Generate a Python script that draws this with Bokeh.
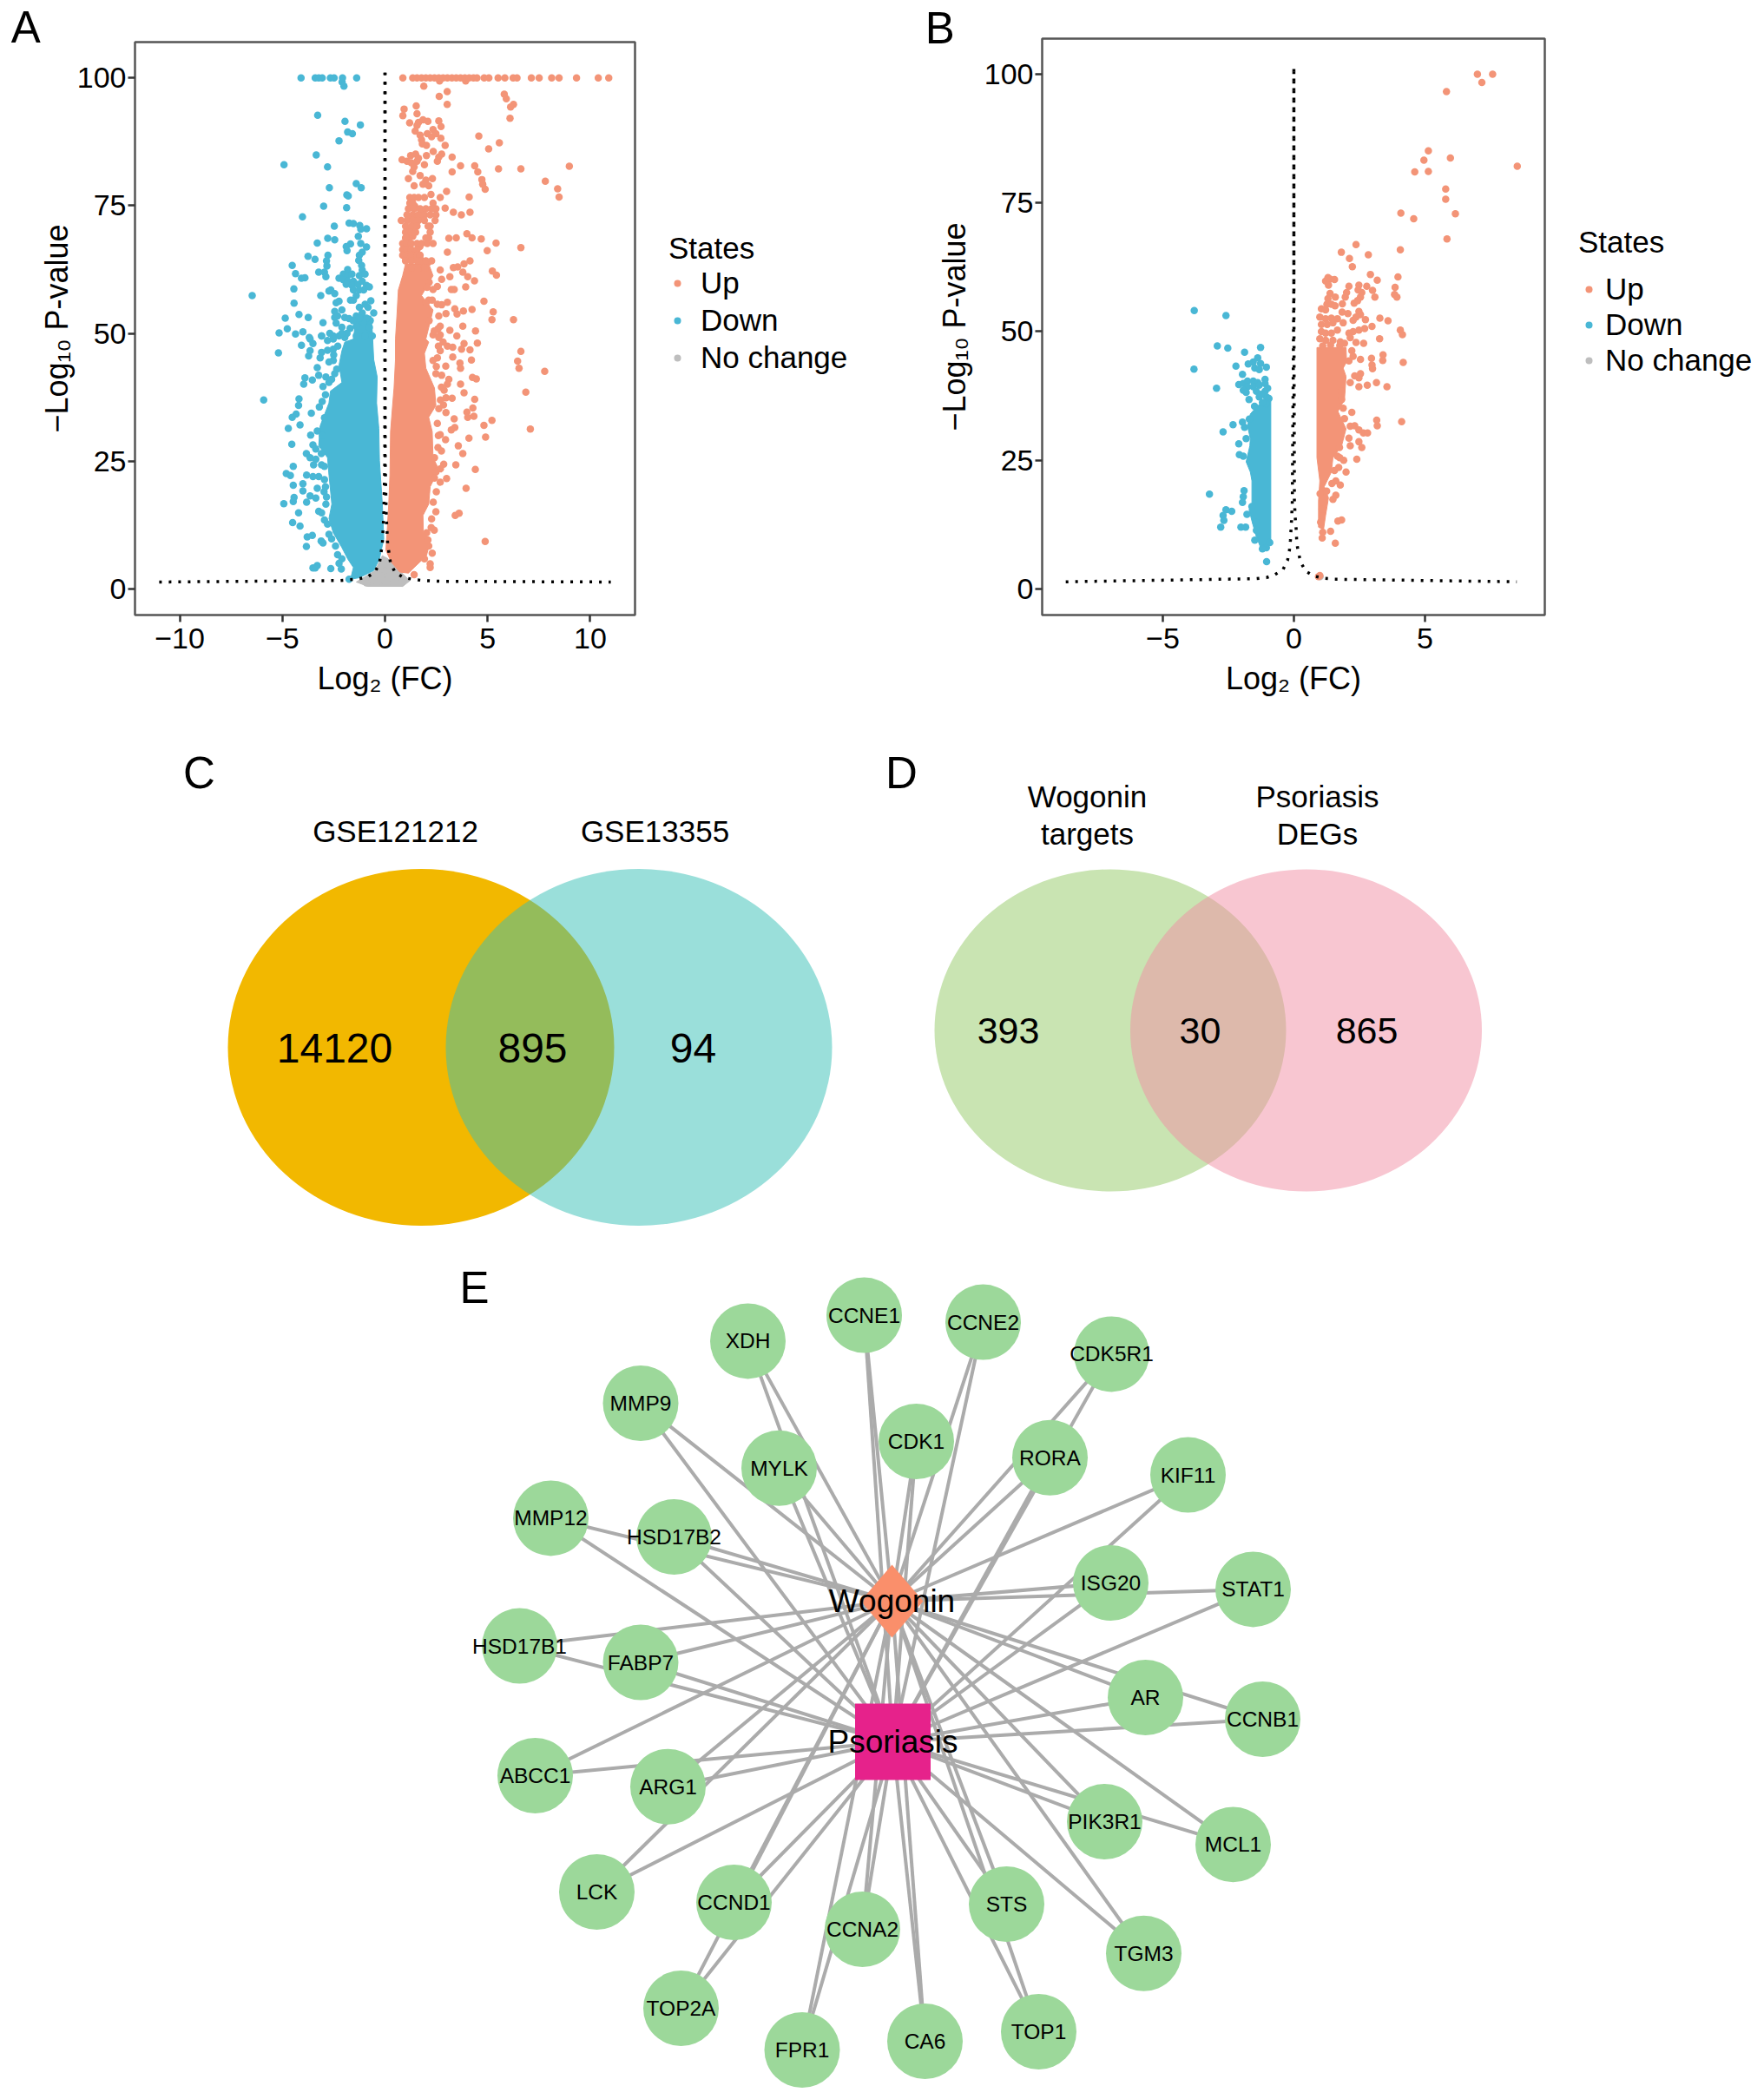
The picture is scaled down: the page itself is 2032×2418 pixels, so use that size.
from bokeh.plotting import figure
from bokeh.layouts import row, column
from bokeh.models import Range1d, FixedTicker, Legend, LegendItem, Label
from bokeh.core.properties import value
from bokeh.embed import file_html
from bokeh.resources import INLINE

FONT = "Liberation Sans"
UP, DOWN, NONE = "#F39477", "#49B7D5", "#BEBEBE"

# ---------- Panel A: values ----------
a_up_top_x = [0.87,1.35,1.56,1.78,1.99,2.2,2.41,2.62,2.83,3.04,3.26,3.47,3.68,3.89,4.1,4.31,4.48,4.83,5.06,5.51,5.84,6.24,6.43,7.13,7.51,8.12,8.48,9.33,10.39,10.9]
a_up_rows = [
 (76.6,[1.21,1.42,1.63,1.92]),(75.5,[1.21,1.35,2.34]),(74.4,[1.14,1.42,1.71,1.99,2.27,2.48]),
 (73.2,[1.07,1.35,1.63,1.92,2.2,2.48]),(72.1,[0.79,1.07,1.35,1.63,1.92,2.44]),(71.0,[1.0,1.28,1.56,2.2,2.1]),
 (69.8,[1.0,1.28,1.49,2.2]),(68.7,[1.0,2.13,1.99]),(67.6,[0.86,1.07,1.28,1.56,1.78,2.06,2.34]),
 (66.4,[0.86,1.07,1.28,1.56]),(65.3,[0.86,1.07,1.28,1.56,1.71]),(64.2,[1.0,1.28,1.56,1.78,1.99,2.27]),
]
a_up_points = [
 (2.66,99.4),(3.93,99.4),(1.89,98.4),(3.03,97.3),(2.64,96.4),(5.81,96.8),(5.91,95.9),(6.26,94.8),(6.12,94.3),(3.03,94.8),
 (6.09,92.1),(0.93,93.9),(1.52,94.5),(1.56,93.0),(0.87,92.6),(1.2,91.2),(1.63,91.3),(1.85,91.8),(2.09,91.5),(2.62,91.6),
 (2.73,90.5),(1.56,90.7),(1.47,89.6),(1.71,88.8),(2.06,89.1),(2.34,89.9),(2.27,88.5),(2.48,89.1),(2.72,88.2),(1.78,87.9),
 (1.82,87.1),(2.02,86.8),(2.93,86.8),(4.57,88.6),(5.57,87.3),(5.05,86.1),(0.83,84),(1.07,83.7),(1.25,84.8),(1.49,85.1),
 (1.28,83.4),(1.56,83.7),(1.42,82.6),(1.35,81.7),(1.63,84.3),(1.92,83),(2.02,84.8),(2.35,85.6),(2.76,85.1),(2.55,83.7),
 (2.62,84.5),(3.27,84.5),(3.68,82.8),(4.37,82.8),(4.52,81.6),(3.27,81.6),(5.53,82.2),(6.62,82.2),(8.98,82.7),(7.81,79.8),
 (8.41,78.3),(8.48,76.7),(4.72,80.1),(4.76,79.2),(4.88,78.2),(4.1,76.7),(3.0,77.8),(2.69,76.6),(2.24,77.2),(1.71,80.9),
 (1.14,80.3),(1.42,78.9),(1.99,80),(2.31,80.3),(2.13,78.9),(1.85,79.2),(2.93,74.5),(3.33,73.7),(3.72,73.2),(4.14,73.7),
 (3.99,69.5),(4.24,68.7),(4.69,68.5),(5.41,67.7),(6.62,66.8),(4.98,66.2),(3.11,68.6),(3.47,68.7),(3.04,65.9),(4.14,64.2),
 (3.85,63.6),(3.54,63),(3.33,62.9),(3.79,62),(2.69,62.4),(5.23,62.2),(5.43,61.4),(3.16,61.1),(2.76,60.6),(4.03,61.1),
 (4.36,60.3),(2.55,59.2),(3.23,58.6),(3.37,58.6),(3.93,59.1),(2.34,58.6),(2.13,56.5),(2.55,55.7),(2.76,55.6),(3.04,56.1),
 (3.4,54.8),(3.51,53.8),(3.82,54.4),(4.24,54.7),(4.82,56.3),(5.27,54.2),(5.21,52.7),(6.26,52.7),(2.97,53.9),(2.62,53.4),
 (3.79,51.4),(4.41,50.5),(3.16,50.6),(2.69,51.4),(2.58,50.9),(3.5,49.5),(2.69,49.7),(2.34,49.7),(4.5,48.1),(3.85,48),
 (3.73,46.9),(4.14,46.8),(3.3,47.3),(3.04,47.5),(3.3,45.4),(4.21,44.8),(3.65,44.2),(3.68,43.2),(2.96,43.6),(2.69,46.6),
 (2.55,45.2),(2.34,44.7),(2.83,48.3),(2.62,49.2),(6.62,46.5),(6.46,44.6),(6.53,43.2),(7.78,42.6),(4.26,41.4),(4.45,41.1),
 (3.68,40.1),(3.11,41),(3.04,40.1),(2.76,41.8),(2.48,42.1),(3.85,38.4),(2.88,38.9),(2.97,37.4),(3.27,37.3),(6.86,38.5),
 (4.37,37.1),(4.28,35.4),(3.99,34.6),(4.03,33.6),(4.33,33.8),(5.21,33),(4.82,32),(7.08,31.3),(3.37,33.3),(2.97,34.5),
 (2.62,35.3),(3.4,31.6),(3.23,31.1),(2.55,32.4),(2.69,30.2),(2.95,29.2),(4.09,29.5),(4.9,29.7),(2.58,27.7),(3.57,28),
 (3.79,26.5),(2.41,25.7),(2.86,24.4),(3.45,24.3),(4.4,23.4),(2.48,22.9),(3.0,21.6),(2.69,20.9),(2.41,21.7),(3.95,19.7),
 (2.48,15.1),(3.61,14.8),(3.42,14.4),(2.27,13.7),(4.88,9.3),(2.03,11),(2.13,8.4),(2.3,7),(2.2,4.9),(2.2,4.2),(1.42,2.8),
 (1.92,5.9),(2.09,9.6),
 (2.4,50.5),(2.6,47.5),(2.5,43.5),(2.75,39.5),(2.7,37),(2.85,36),(2.6,30),(2.75,27),(2.7,23.5),(2.5,19),(2.35,17),(2.25,12),(2.4,11.5),
 (1.3,62.8),(1.6,62.5),(1.95,62.8),(2.15,60),(2.05,59),(2.0,56),(2.3,56.5),(2.15,52.5),
 (1.45,74.9),(1.75,73.8),(1.2,72.7),(1.55,73),(1.85,72.7),(1.5,71.5),(1.2,70.4),(1.4,70.4),(1.15,69.2),(1.35,69),(1.15,68.1),(1.7,67),
 (0.95,66.9),(1.2,66),(1.4,65.9),(1.0,64.8),(1.2,64.8),(1.45,64.7),(1.7,64.7),(1.9,63.9),(2.1,63.9),
]
# outline of the region where the overplotted points merge into a solid mass
a_up_mass_x = [0.04,0.1,0.18,0.24,0.27,0.37,0.44,0.51,0.51,0.58,0.65,0.86,1.0,2.13,2.34,1.78,2.34,2.27,1.99,2.13,1.92,1.99,2.41,2.48,2.13,2.3,2.34,2.55,2.41,2.2,2.13,1.85,1.87,2.2,2.02,1.71,1.42,1.14,0.72,0.3]
a_up_mass_y = [7.6,11,16.6,22.3,30.8,35.9,39.3,44.9,48.9,53.4,58.5,61.3,63.6,63.6,61.3,57.4,54.6,53.4,48.9,48.3,46.1,43.2,39.3,35.9,33.6,30.8,25.7,24,21.7,20,16.6,14.4,11,9.3,6.5,5.3,4.2,3.1,3.3,5.3]

a_down_top_x = [-4.09,-3.4,-3.23,-3.06,-2.66,-2.48,-2.07,-1.38]
a_down_points = [
 (-2.09,99.2),(-2.0,98.4),(-3.28,92.7),(-1.95,91.5),(-1.2,90.8),(-1.82,89.4),(-1.59,89.1),(-2.24,87.7),(-3.35,84.9),(-4.92,83),
 (-2.8,82.6),(-2.71,78.5),(-1.4,79.3),(-1.16,78.5),(-1.86,77.1),(-1.79,76.9),(-2.99,74.9),(-1.87,74.6),(-4.02,72.8),(-1.75,71.6),
 (-1.54,71.5),(-1.23,71.1),(-0.9,70.5),(-1.18,70.4),(-2.47,71),(-1.3,69),(-2.79,68.6),(-2.45,68.3),(-3.3,67.7),(-1.68,67.5),
 (-1.89,67),(-1.85,66.2),(-1.18,67.6),(-0.9,66.9),(-1.11,65.9),(-1.25,65.3),(-2.78,65.3),(-3.75,65.1),(-3.41,64.5),(-2.85,64.2),
 (-4.52,63.3),(-1.28,64.3),(-2.83,63.2),(-1.14,63.3),(-1.11,62.4),(-3.23,62),(-2.95,62),(-4.36,61.7),(-2.88,61.1),(-4.07,60.8),
 (-3.9,60.9),(-4.44,58.7),(-2.73,58.3),(-2.64,58.5),(-2.45,57.8),(-3.13,57.4),(-6.47,57.4),(-4.43,55.9),(-4.19,53.7),(-4.86,53),
 (-3.74,53.1),(-3.02,52.1),(-4.76,50.9),(-5.16,50.1),(-4.36,49.9),(-4.0,50.3),(-3.69,49.2),
 (-1.82,62.5),(-2.03,61.6),(-1.82,61.3),(-1.61,61.6),(-2.24,60.8),(-2.03,60.5),(-1.82,60.2),(-1.54,60.2),(-1.25,61.3),(-0.97,61.6),
 (-1.89,59.6),(-1.61,59.4),(-1.32,59.6),(-1.11,60.2),(-0.9,59.4),(-0.76,59.1),(-1.54,58.5),(-1.25,58.5),(-1.04,58.5),(-1.4,57.4),
 (-1.54,56.5),(-1.68,56.5),(-2.24,56.3),(-2.38,56),(-0.69,56.4),(-0.97,55.7),(-1.25,55.1),(-1.11,54),(-0.83,55.1),(-2.1,54.6),
 (-2.45,54.3),(-2.45,53.1),(-2.31,53.4),(-1.96,53.1),(-1.75,52.9),(-1.4,53.4),(-2.38,52),(-2.1,51.2),(-1.4,51.4),(-0.76,51.2),
 (-0.62,49.5),(-3.09,49.5),(-2.69,50),(-2.24,49.5),(-1.96,49.2),(-1.4,49.5),(-0.97,49.5),(-2.52,49.5),
 (-4.07,47.7),(-5.19,46.2),(-3.65,48.9),(-3.51,48),(-3.65,46.6),(-3.72,45.6),(-3.09,49.5),(-2.8,48.6),(-2.52,48.9),(-3.09,46.3),
 (-2.8,46.7),(-2.52,46.9),(-3.16,45.2),(-2.52,44.7),(-2.73,44.4),(-3.3,43.3),(-3.23,41.8),(-2.88,41.5),(-2.73,40.4),(-3.02,39.6),
 (-2.45,42.1),(-3.9,41.3),(-3.96,40.1),(-3.54,40.9),(-5.91,37),(-4.19,37.2),(-4.21,35.9),(-3.06,36.7),(-3.2,35.6),(-4.33,34.2),
 (-4.52,33.6),(-3.59,34.4),(-4.14,32.1),(-4.71,31.4),(-3.3,30.9),(-3.62,30.1),(-4.54,28.3),(-3.51,28.2),(-3.37,27.4),(-3.83,26.5),
 (-3.65,25.7),(-3.37,25.4),(-3.48,24.3),(-4.47,24),(-3.09,24.3),(-4.81,22.6),(-4.61,22.2),(-3.82,22.3),(-3.51,22),(-3.23,22),
 (-2.95,21.4),(-4.0,20.6),(-4.47,20.3),(-3.3,19.7),(-2.97,19),(-4.0,19.2),(-3.65,18.2),(-3.37,17.8),(-4.43,17.9),(-4.47,17.1),
 (-4.93,16.7),(-3.82,17),(-2.88,16.6),(-3.23,15.2),(-4.21,14.9),(-3.09,14.9),(-4.5,13),(-4.14,12.3),(-2.8,12.7),(-2.73,10.7),
 (-3.79,10.2),(-3.54,10.5),(-3.11,9.4),(-3.02,9),(-3.83,8.3),(-2.41,8.4),(-2.31,6.7),(-2.1,5.9),(-2.24,5),(-2.13,3.9),(-2.64,4),
 (-3.51,4.1),(-3.3,4.6),(-3.4,4.1),(-1.75,1.9),
 (-0.55,54),(-0.72,52.5),(-0.9,53),(-1.05,52.2),(-1.25,53),(-1.55,52.5),(-1.7,51),(-1.85,50),(-2.1,50),(-2.3,47.5),(-2.5,45.8),(-2.35,43),
 (-2.6,41),(-2.9,38),(-2.95,33.5),(-3.05,30),(-3.1,26.5),(-2.95,24),(-2.9,20),(-2.85,18),(-2.95,13.5),(-2.6,9.8),
]
a_down_mass_x = [-0.62,-0.55,-0.38,-0.41,-0.3,-0.27,-0.13,-0.06,-0.27,-0.55,-1.25,-1.68,-1.54,-1.82,-2.1,-2.52,-2.73,-2.59,-2.73,-2.8,-3.23,-3.16,-2.73,-2.66,-2.1,-2.24,-2.1,-1.96,-1.54,-1.4,-0.69]
a_down_mass_y = [50.6,44.9,41.5,36.4,31.4,25.1,16.6,9.8,5.9,3.6,2.2,1.9,4.2,5.9,8.1,11,13.8,16.6,22.3,25.7,28,31.9,36.4,38.7,40.4,43.8,46.6,48.3,48.9,53.4,53.4]

a_none_x = [-0.9,-0.4,0.0,0.4,0.8,0.0,-0.2,0.2]
a_none_y = [1.2,1.2,1.5,1.2,1.2,3.5,2.5,2.5]
a_none_mass_x = [-1.4,-0.83,0.86,1.21,0.15,-0.13,-0.48]
a_none_mass_y = [1.36,0.5,0.5,1.6,5.9,6.5,3.6]

a_curve_left_x = [-11,-2.2,-1.4,-0.86,-0.48,-0.27,-0.13,-0.06,-0.01,0,0]
a_curve_left_y = [1.36,1.65,1.9,2.3,3.4,5,8.8,14.4,25,50,101]
a_curve_right_x = [0,0,0.01,0.06,0.13,0.27,0.5,0.93,1.35,1.85,2.8,11]
a_curve_right_y = [101,50,25,14.4,8.8,5,3.2,2.2,1.9,1.65,1.5,1.36]

# ---------- Panel B ----------
b_up_points = [
 (7.0,100),(7.58,100),(7.17,98.4),(5.82,96.6),(5.13,85.1),(4.96,83.3),(5.97,83.7),(8.52,82.1),(4.61,81),(5.13,81.1),(5.79,77.7),
 (5.79,75.7),(6.16,72.9),(4.08,73),(4.57,71.9),(5.84,68),(2.37,66.9),(4.06,65.9),(1.81,65.4),(2.84,64.9),(2.12,64.2),(2.23,62.6),
 (2.92,61.1),(3.18,60),(3.97,60.6),(3.86,58.6),(3.84,57.2),(3.93,56.7),(1.3,60.5),(1.21,59.8),(1.38,60.2),(1.55,60.1),(1.32,59),
 (2.1,58.8),(2.01,57.6),(1.96,56.7),(2.48,59),(2.45,58.1),(2.78,58.8),(3.0,58),(3.09,56.7),(2.59,57.6),(2.54,56.7),(2.43,56),
 (2.3,55.5),(1.85,55.4),(1.58,56.7),(1.38,57.4),(1.3,56.4),(1.26,55.3),(1.43,55.3),(1.57,55),(1.05,54.4),(1.21,54.2),(1.84,53.8),
 (2.06,53.5),(2.48,53.9),(2.54,53.3),(2.37,52.8),(2.73,52.3),(3.28,52.6),(3.59,52.1),(0.99,52.8),(1.21,52.5),(1.43,52.6),(1.66,52.5),
 (1.05,51.4),(1.27,51.4),(1.49,51.7),(1.88,51.7),(2.26,52.2),(2.98,51),(2.7,50.6),(2.48,50.3),(2.26,50),(2.1,49.7),(4.06,50.3),
 (4.14,49.4),(3.27,48.6),(1.05,50),(1.21,49.7),(1.43,49.7),(1.66,50.3),(2.15,48.8),(0.99,48.6),(1.21,48.3),(1.49,48.3),(1.77,48),
 (2.37,47.9),(2.66,47.7),(1.93,47.7),(2.21,46.3),(2.26,45.2),(2.1,44.3),(2.54,44.6),(2.96,44.8),(3.4,45.5),(3.39,44.4),(4.17,44),
 (2.98,43.5),(3.0,42.8),(2.32,41.4),(2.54,41.8),(2.48,41),(2.15,40.1),(2.48,39.3),(2.8,39.6),(3.15,40.1),(3.55,39.3),(1.82,38.4),
 (1.82,36.8),(1.88,35.1),(2.21,34.3),(1.93,33.1),(3.16,32.8),(3.18,31.7),(4.11,32.5),(2.15,31.6),(2.32,31.7),(2.48,30.9),(2.65,30.3),
 (2.81,30.3),(2.1,29.3),(2.48,28.6),(2.59,27.5),(2.15,27.8),(1.74,27.5),(1.66,25.8),(2.4,25.2),(1.9,25),(1.71,23.6),(1.99,22.7),
 (1.6,21),(1.77,20.2),(1.6,18.2),(1.49,17.4),(1.82,13.4),(1.68,13.2),(1.4,11.2),(1.08,9.9),(1.58,8.9),(0.99,2.6),(0.94,2.4),
 (1.1,47.2),(1.4,47.4),(1.75,47.3),(1.0,18.5),(1.08,15.5),(1.02,13),(1.1,11),(1.25,19),(1.45,20.5),(1.55,23),(1.75,25.5),
]
b_up_mass_x = [0.91,1.99,2.01,1.88,1.99,1.93,1.68,1.99,1.82,1.49,1.43,1.16,1.32,1.21,1.13,0.94,0.94,0.99,0.88,0.88]
b_up_mass_y = [46.9,46.9,44.1,42.9,41.3,36.8,34.5,31.1,27.8,25.5,22.7,19.9,17.7,14.3,11.5,12,17.1,21,25.5,46.9]

b_down_points = [
 (-3.8,54.1),(-2.59,53.1),(-2.92,47.2),(-2.52,46.8),(-1.88,46),(-1.27,46.9),(-3.81,42.7),(-2.21,43.3),(-1.74,43.7),(-2.95,39),
 (-1.96,41.7),(-1.55,44.1),(-1.38,44.9),(-1.27,43.8),(-1.49,42.9),(-1.32,42.6),(-1.05,43.1),(-2.1,39.7),(-1.93,39.9),(-1.77,40.4),
 (-1.55,40.4),(-1.38,40.1),(-1.1,40.7),(-1.77,39.3),(-1.55,39.3),(-1.32,39.6),(-1.1,39.9),(-1.93,38.6),(-1.43,38.4),(-1.1,38.4),
 (-1.05,37.3),(-1.82,38.2),(-1.71,36.8),(-1.32,37.3),(-2.32,31.9),(-1.96,32.4),(-1.88,31.4),(-2.7,30.5),(-1.82,29.2),(-2.1,28.2),
 (-2.08,26.1),(-1.93,25.8),(-3.22,18.4),(-1.9,19.1),(-1.93,17.9),(-1.96,16.8),(-2.59,15.4),(-2.37,15.1),(-2.7,14.3),(-2.67,13.3),
 (-2.79,12),(-2.02,12),(-1.84,12),(-1.79,14.5),(-1.49,9.5),(-1.43,11.4),(-1.04,5.3),
 (-0.95,37),(-1.05,36),(-1.2,36.2),(-1.5,35.5),(-1.7,33),(-0.92,9),(-1.05,8),(-1.2,7.8),(-1.45,13),(-1.6,16),(-1.25,37.8),(-1.0,39),
]
b_down_mass_x = [-0.88,-0.88,-1.21,-1.43,-1.6,-1.71,-1.6,-1.6,-1.66,-1.82,-1.68,-1.66,-1.77,-1.66,-1.38]
b_down_mass_y = [36.8,8.7,7.3,10.1,13.2,15.4,16.5,21,22.7,24.7,27.8,29.2,31.7,34,35.6]
b_none_x = [1.0]
b_none_y = [2.4]

b_curve_left_x = [-8.7,-1.45,-1.05,-0.72,-0.41,-0.24,-0.17,-0.13,-0.11,-0.09,-0.06,0,0]
b_curve_left_y = [1.4,2,2.2,2.8,3.8,5.6,7.5,9.5,11.5,13.2,17,60,101]
b_curve_right_x = [0,0,0.02,0.06,0.09,0.11,0.17,0.28,0.46,0.77,1.13,1.55,8.5]
b_curve_right_y = [101,60,17,13.2,11.5,9,7,5,3.4,2.5,2.1,1.9,1.4]

# ---------- Axis labels ----------
y_ticks = [0,25,50,75,100]
a_x_ticks = [-10,-5,0,5,10]
b_x_ticks = [-5,0,5]
legend_labels = ["Up","Down","No change"]
x_title = "Log₂ (FC)"
y_title = "−Log₁₀ P-value"

# ---------- Panels C, D ----------
venn_c_names = ["GSE121212","GSE13355"]
venn_c_counts = ["14120","895","94"]
venn_d_names = ["Wogonin","targets","Psoriasis","DEGs"]
venn_d_counts = ["393","30","865"]

# ---------- Panel E: network layout ----------
genes = ["CCNE1","CCNE2","XDH","CDK5R1","MMP9","MYLK","CDK1","RORA","KIF11","MMP12","HSD17B2","ISG20","STAT1","HSD17B1","FABP7","AR","CCNB1","ABCC1","ARG1","PIK3R1","MCL1","LCK","CCND1","STS","CCNA2","TGM3","TOP2A","FPR1","CA6","TOP1"]
gene_x = [995,1132,861,1280,737.5,897,1055,1209,1368,634,776,1279,1443,598,737.5,1319,1454,616,769,1272,1420,687,845,1159,993,1317,784,923.5,1065,1196]
gene_y = [1514.6,1522.6,1544.4,1559.4,1616,1690.7,1660,1678.7,1698.6,1748.4,1770,1823,1830.4,1895.6,1914.5,1955,1980,2045,2057.7,2098,2124.4,2179,2191,2193,2222,2249.7,2313,2361,2351,2340]
hub_names = ["Wogonin","Psoriasis"]
hub_x = [1027,1028]
hub_y = [1844,2006]


def expand(points):
    return [p[0] for p in points], [p[1] for p in points]


def volcano(x_range, y_range, x_ticks, frame_w, frame_h, left, right, top, bottom, y_standoff):
    p = figure(frame_width=frame_w, frame_height=frame_h, x_range=Range1d(*x_range), y_range=Range1d(*y_range),
               output_backend="svg", toolbar_location=None,
               min_border_left=left, min_border_right=right, min_border_top=top, min_border_bottom=bottom)
    p.grid.visible = False
    p.outline_line_color = "#555555"
    p.outline_line_width = 2.5
    for ax, ticks in ((p.xaxis, x_ticks), (p.yaxis, y_ticks)):
        ax.ticker = FixedTicker(ticks=ticks)
        ax.major_label_overrides = {t: (f"−{abs(t)}" if t < 0 else str(t)) for t in ticks}
        ax.minor_tick_line_color = None
        ax.axis_line_color = None
        ax.major_tick_line_color = "#333333"
        ax.major_tick_line_width = 2.5
        ax.major_tick_in = 0
        ax.major_tick_out = 8
        ax.major_label_text_font = FONT
        ax.major_label_text_font_size = "34px"
        ax.major_label_text_color = "black"
        ax.axis_label_text_font = FONT
        ax.axis_label_text_font_size = "36px"
        ax.axis_label_text_font_style = "normal"
        ax.axis_label_text_color = "black"
    p.xaxis.axis_label = x_title
    p.yaxis.axis_label = y_title
    p.xaxis.major_label_standoff = 7
    p.yaxis.major_label_standoff = 2
    p.xaxis.axis_label_standoff = 11
    p.yaxis.axis_label_standoff = y_standoff
    return p


def add_series(p, none_xy, none_mass, down_xy, down_mass, up_xy, up_mass, curve_l, curve_r):
    if none_mass:
        p.patch(none_mass[0], none_mass[1], fill_color=NONE, line_color=NONE)
    p.scatter(none_xy[0], none_xy[1], size=8.5, fill_color=NONE, line_color=None)
    p.patch(down_mass[0], down_mass[1], fill_color=DOWN, line_color=DOWN)
    p.scatter(down_xy[0], down_xy[1], size=8.5, fill_color=DOWN, line_color=None)
    if up_mass:
        p.patch(up_mass[0], up_mass[1], fill_color=UP, line_color=UP)
    p.scatter(up_xy[0], up_xy[1], size=8.5, fill_color=UP, line_color=None)
    for c in (curve_l, curve_r):
        p.line(c[0], c[1], line_color="black", line_width=3.5, line_dash="3 8")


def legend_figure(width, loc, spacing, gw, ls, ts):
    # a small side figure holds the "States" key, one swatch per series
    lg = figure(width=width, height=820, x_range=Range1d(1,2), y_range=Range1d(1,2),
                output_backend="svg", toolbar_location=None, min_border=0)
    lg.axis.visible = False
    lg.grid.visible = False
    lg.outline_line_color = None
    rs = [lg.scatter([0],[0], size=8.5, fill_color=c, line_color=None) for c in (UP, DOWN, NONE)]
    leg = Legend(items=[LegendItem(label=l, renderers=[r]) for l, r in zip(legend_labels, rs)],
                 location=loc, title="States", background_fill_alpha=0, border_line_color=None,
                 label_text_font=FONT, label_text_font_size="35px", label_text_color="black",
                 title_text_font=FONT, title_text_font_size="35px", title_text_font_style="normal", title_text_color="black",
                 padding=0, margin=0, spacing=spacing, glyph_width=gw, glyph_height=20,
                 label_standoff=ls, title_standoff=ts)
    lg.add_layout(leg, "center")
    return lg


# Panel A
fig_a = volcano((-12.18,12.18),(-5.1,107),a_x_ticks,576,660,155,9,48,112,0)
ax_up, ay_up = expand(a_up_points)
for y, xs in a_up_rows:
    ax_up += xs
    ay_up += [y]*len(xs)
ax_up += a_up_top_x
ay_up += [100]*len(a_up_top_x)
ax_dn, ay_dn = expand(a_down_points)
ax_dn += a_down_top_x
ay_dn += [100]*len(a_down_top_x)
add_series(fig_a,(a_none_x,a_none_y),(a_none_mass_x,a_none_mass_y),(ax_dn,ay_dn),(a_down_mass_x,a_down_mass_y),
           (ax_up,ay_up),(a_up_mass_x,a_up_mass_y),(a_curve_left_x,a_curve_left_y),(a_curve_right_x,a_curve_right_y))
fig_a.add_layout(Label(x=-17.5,y=109.85,text="A",text_font=FONT,text_font_size="51px",text_align="center",text_baseline="middle",text_color="black"),"left")
leg_a = legend_figure(300,(30,276),3,20,17,0)

# Panel B
fig_b = volcano((-9.6,9.57),(-5.06,106.9),b_x_ticks,579,664,160,6,44,112,11)
bx_up, by_up = expand(b_up_points)
bx_dn, by_dn = expand(b_down_points)
add_series(fig_b,(b_none_x,b_none_y),None,(bx_dn,by_dn),(b_down_mass_x,b_down_mass_y),(bx_up,by_up),(b_up_mass_x,b_up_mass_y),
           (b_curve_left_x,b_curve_left_y),(b_curve_right_x,b_curve_right_y))
fig_b.add_layout(Label(x=-13.5,y=108.9,text="B",text_font=FONT,text_font_size="51px",text_align="center",text_baseline="middle",text_color="black"),"left")
leg_b = legend_figure(239,(33,273),1,24,7,14)

# Lower canvas: C, D, E
low = figure(width=2024, height=1590, x_range=Range1d(0,2024), y_range=Range1d(2410,820),
             output_backend="svg", toolbar_location=None, min_border=0)
low.axis.visible = False
low.grid.visible = False
low.outline_line_color = None


def txt(x, y, t, size):
    low.text(x=x, y=y, text=t, text_font=value(FONT), text_font_size=value(size), text_align="center",
             text_baseline="middle", text_color="black")


# Venn C
low.ellipse(x=[484.5], y=[1206], width=[445], height=[411], fill_color="#F2B800", line_color=None)
low.ellipse(x=[735.5], y=[1206], width=[445], height=[411], fill_color="#35BFB5", fill_alpha=0.5, line_color=None)
txt([455,754],[957,957],venn_c_names,"35px")
txt([385,613,798],[1207,1207,1207],venn_c_counts,"48px")
# Venn D
low.ellipse(x=[1278.5], y=[1186.5], width=[405], height=[371], fill_color="#C9E4B2", line_color=None)
low.ellipse(x=[1504], y=[1186.5], width=[405], height=[371], fill_color="#F18DA4", fill_alpha=0.5, line_color=None)
txt([1252,1252,1517,1517],[917,960,917,960],venn_d_names,"35px")
txt([1161,1382,1574],[1187,1187,1187],venn_d_counts,"43px")
# Letters
txt([229,1038,546],[890,890,1483],["C","D","E"],"51px")
# Network
for hx, hy in zip(hub_x, hub_y):
    low.segment(x0=gene_x, y0=gene_y, x1=[hx]*len(genes), y1=[hy]*len(genes), line_color="#ABABAB", line_width=4)
low.circle(x=gene_x, y=gene_y, radius=43.5, fill_color="#9CD89A", line_color=None)
low.rect(x=[hub_x[1]], y=[hub_y[1]], width=[87], height=[88], fill_color="#E6228B", line_color=None)
low.patch(x=[hub_x[0]-36,hub_x[0],hub_x[0]+36,hub_x[0]], y=[hub_y[0],hub_y[0]-42,hub_y[0],hub_y[0]+42], fill_color="#FA8F6B", line_color=None)
txt(gene_x, gene_y, genes, "24.5px")
txt(hub_x, hub_y, hub_names, "37px")

page = column(row(fig_a, leg_a, column(fig_b, spacing=0), leg_b, spacing=0), low, spacing=0)
open("out.html", "w").write(file_html(page, INLINE))
